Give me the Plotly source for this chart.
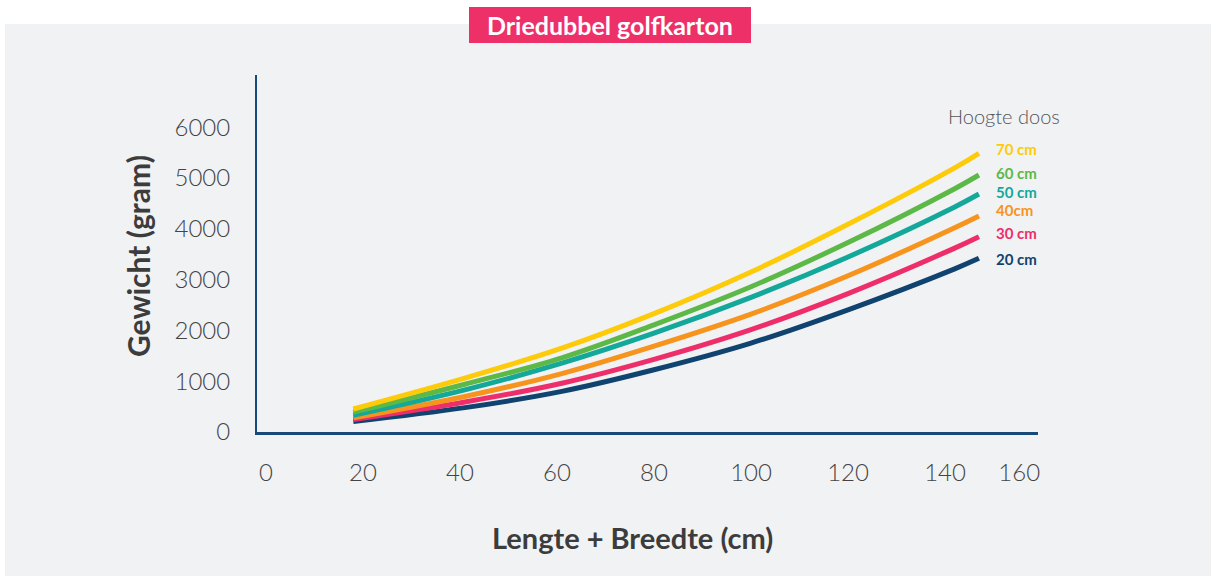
import plotly.graph_objects as go

# ---- data ----
lengte_breedte = [18, 41, 61, 80, 100, 120, 142, 147]
hoogte_labels = ["20 cm", "30 cm", "40cm", "50 cm", "60 cm", "70 cm"]
gewicht_20 = [205, 480, 800, 1225, 1750, 2405, 3212, 3419]
gewicht_30 = [245, 590, 960, 1430, 2015, 2725, 3620, 3844]
gewicht_40 = [280, 700, 1150, 1690, 2320, 3075, 4020, 4252]
gewicht_50 = [330, 830, 1355, 1945, 2650, 3445, 4430, 4685]
gewicht_60 = [390, 940, 1460, 2110, 2860, 3730, 4790, 5059]
gewicht_70 = [453, 1060, 1650, 2330, 3150, 4090, 5200, 5486]
series = [gewicht_20, gewicht_30, gewicht_40, gewicht_50, gewicht_60, gewicht_70]

x_tick_labels = ["0", "20", "40", "60", "80", "100", "120", "140", "160"]
x_tick_vals = [0, 20, 40, 60, 80, 100, 120, 140, 155.3]
y_tick_vals = [0, 1000, 2000, 3000, 4000, 5000, 6000]

colors = ["#10436F", "#EE2E6B", "#F7941D", "#14A89B", "#5DB947", "#FDCB0A"]
label_y_px = [259, 233, 210, 192, 173, 149]

OFF = 0                      # body margin removed via post_script
WFIG, HFIG = 1211, 576
L, R, T, B = 257, 1038, 75, 432   # plot area in page pixels
pw, ph = R - L, B - T

def px(x):
    return (x - L) / pw

def py(y):
    return (B - y) / ph

fig = go.Figure()
for vals, col, name in zip(series, colors, hoogte_labels):
    fig.add_trace(go.Scatter(
        x=lengte_breedte, y=vals, mode="lines", name=name,
        line=dict(color=col, width=5, shape="spline", smoothing=1),
        showlegend=False, hoverinfo="skip"))

font_family = "Lato, 'Open Sans', sans-serif"
axis_color = "#17497A"
text_color = "#3C3C3C"

shapes = [
    dict(type="rect", xref="paper", yref="paper",
         x0=px(5), x1=px(1230), y0=py(600), y1=py(24),
         fillcolor="#F1F2F4", line=dict(width=0), layer="below"),
    dict(type="rect", xref="paper", yref="paper",
         x0=px(469), x1=px(751), y0=py(43), y1=py(7),
         fillcolor="#EE3069", line=dict(width=0), layer="below"),
]

annotations = [
    dict(text="<b>Driedubbel golfkarton</b>", xref="paper", yref="paper",
         x=px(610), y=py(25), xanchor="center", yanchor="middle",
         showarrow=False, font=dict(family=font_family, size=25, color="white")),
    dict(text="<b>Gewicht (gram)</b>", xref="paper", yref="paper",
         x=px(138), y=py(256), xanchor="center", yanchor="middle", textangle=-90,
         showarrow=False, font=dict(family=font_family, size=30, color=text_color)),
    dict(text="<b>Lengte + Breedte (cm)</b>", xref="paper", yref="paper",
         x=px(632), y=py(537), xanchor="center", yanchor="middle",
         showarrow=False, font=dict(family=font_family, size=29, color=text_color)),
    dict(text="Hoogte doos", xref="paper", yref="paper",
         x=px(1004), y=py(116), xanchor="center", yanchor="middle",
         showarrow=False, font=dict(family=font_family, size=20, color="#555555", weight=300)),
]
for name, col, ypx in zip(hoogte_labels, colors, label_y_px):
    annotations.append(dict(
        text=f"<b>{name}</b>", xref="paper", yref="paper",
        x=px(994), y=py(ypx), xanchor="left", yanchor="middle",
        showarrow=False, font=dict(family=font_family, size=15, color=col)))

x0_px = 266
scale_x = 4.85
x_min = (L - x0_px) / scale_x
x_max = (R - x0_px) / scale_x
y_max = (B - T) / 0.0508

fig.update_layout(
    width=WFIG, height=HFIG,
    margin=dict(l=L - OFF, r=(OFF + WFIG) - R, t=T - OFF, b=(OFF + HFIG) - B,
                autoexpand=False),
    paper_bgcolor="white", plot_bgcolor="#F1F2F4",
    shapes=shapes, annotations=annotations,
    font=dict(family=font_family, color=text_color),
    xaxis=dict(range=[x_min, x_max], tickvals=x_tick_vals, ticktext=x_tick_labels,
               showgrid=False, zeroline=False, showline=True, linecolor=axis_color,
               linewidth=2.5, ticks="outside", ticklen=17, tickcolor="rgba(0,0,0,0)",
               tickfont=dict(size=24, color="#444444", weight=300), fixedrange=True),
    yaxis=dict(range=[0, y_max], tickvals=y_tick_vals,
               ticktext=[str(v) for v in y_tick_vals],
               showgrid=False, zeroline=False, showline=True, linecolor=axis_color,
               linewidth=2, ticks="outside", ticklen=20, tickcolor="rgba(0,0,0,0)",
               tickfont=dict(size=24, color="#444444", weight=300), fixedrange=True),
)

fig.write_html(
    "out.html",
    config={"displayModeBar": False},
    post_script="document.body.style.margin='0';document.body.style.overflow='hidden';",
)
